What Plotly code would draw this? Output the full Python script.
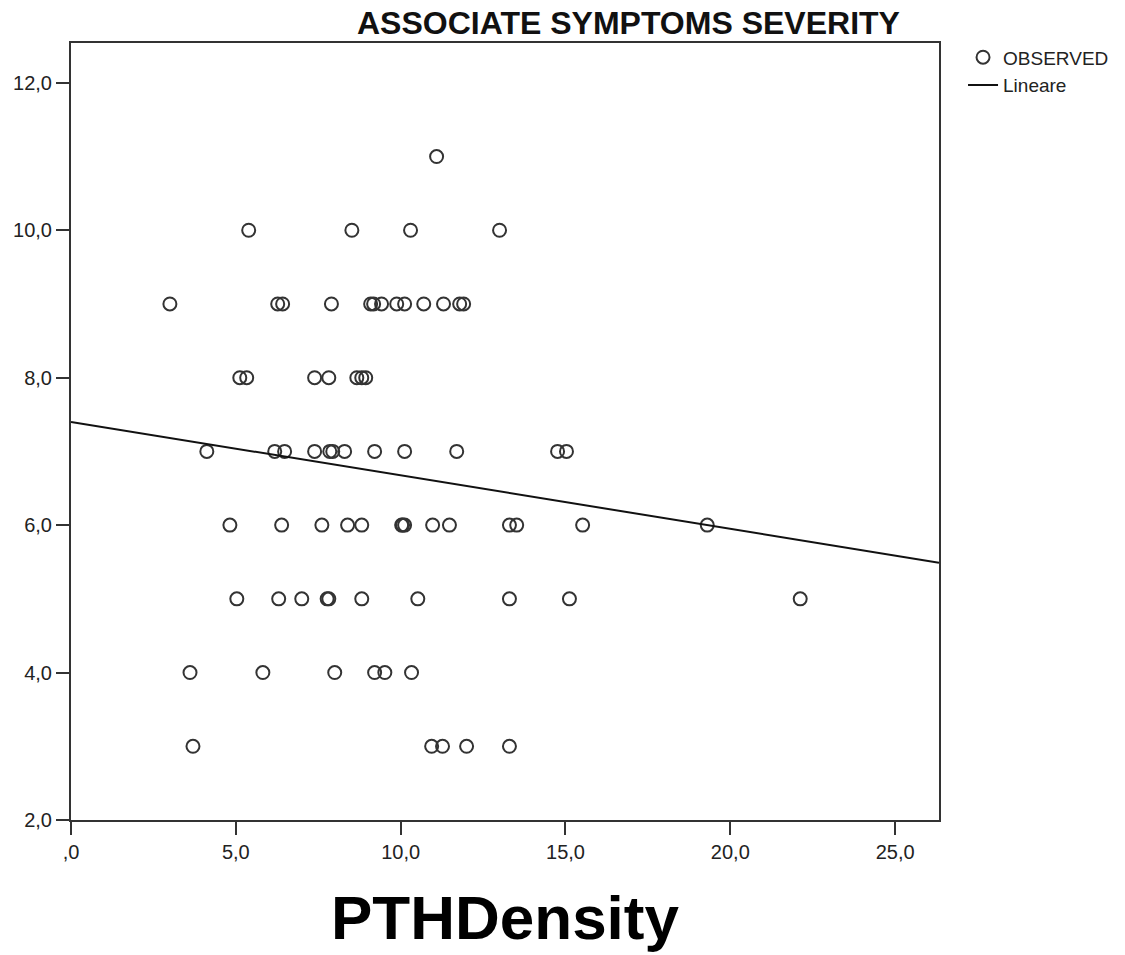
import plotly.graph_objects as go

# ---- data ----
x_values = [
    11.09,
    5.39, 8.52, 10.30, 13.00,
    3.00, 6.27, 6.42, 7.90, 9.09, 9.18, 9.42, 9.88, 10.12, 10.70, 11.30, 11.79, 11.91,
    5.12, 5.33, 7.39, 7.82, 8.67, 8.82, 8.94,
    4.12, 6.18, 6.48, 7.39, 7.85, 7.94, 8.30, 9.21, 10.12, 11.70, 14.76, 15.03,
    4.82, 6.39, 7.61, 8.39, 8.82, 10.03, 10.06, 10.12, 10.97, 11.48, 13.30, 13.52, 15.52, 19.30,
    5.03, 6.30, 7.00, 7.77, 7.82, 8.82, 10.52, 13.30, 15.12, 22.12,
    3.61, 5.82, 8.00, 9.21, 9.52, 10.33,
    3.70, 10.94, 11.27, 12.00, 13.30,
]
y_values = [
    11,
    10, 10, 10, 10,
    9, 9, 9, 9, 9, 9, 9, 9, 9, 9, 9, 9, 9,
    8, 8, 8, 8, 8, 8, 8,
    7, 7, 7, 7, 7, 7, 7, 7, 7, 7, 7, 7,
    6, 6, 6, 6, 6, 6, 6, 6, 6, 6, 6, 6, 6, 6,
    5, 5, 5, 5, 5, 5, 5, 5, 5, 5,
    4, 4, 4, 4, 4, 4,
    3, 3, 3, 3, 3,
]
fit_intercept = 7.40
fit_slope = -0.0725

x_tick_vals = [0, 5, 10, 15, 20, 25]
x_tick_text = [",0", "5,0", "10,0", "15,0", "20,0", "25,0"]
y_tick_vals = [2, 4, 6, 8, 10, 12]
y_tick_text = ["2,0", "4,0", "6,0", "8,0", "10,0", "12,0"]

x_range = [0, 26.33]
y_range = [2, 12.54]

line_x = [x_range[0], x_range[1]]
line_y = [fit_intercept + fit_slope * v for v in line_x]

FONT = "Liberation Sans, Arial, sans-serif"
INK = "#333333"

fig = go.Figure()
fig.add_trace(go.Scatter(
    x=x_values, y=y_values, mode="markers", name="OBSERVED",
    marker=dict(symbol="circle-open", size=13, color=INK, line=dict(width=2, color=INK)),
    cliponaxis=False,
))
fig.add_trace(go.Scatter(
    x=line_x, y=line_y, mode="lines", name="Lineare",
    line=dict(color="#111111", width=2),
))

axis_common = dict(
    showgrid=False, zeroline=False, showline=True, linecolor=INK, linewidth=2,
    mirror=True, ticks="outside", ticklen=13, tickwidth=2, tickcolor=INK,
    tickfont=dict(family=FONT, size=20, color="#222222"),
)
fig.update_xaxes(range=x_range, tickvals=x_tick_vals, ticktext=x_tick_text, **axis_common)
fig.update_yaxes(range=y_range, tickvals=y_tick_vals, ticktext=y_tick_text, **axis_common)

fig.update_layout(
    width=1125, height=955,
    margin=dict(l=71, r=185, t=43, b=135),
    paper_bgcolor="white", plot_bgcolor="white",
    font=dict(family=FONT, color="#222222"),
    showlegend=True,
    legend=dict(x=1.0265, y=1.006, xanchor="left", yanchor="top",
                font=dict(family=FONT, size=19, color="#222222"),
                bgcolor="rgba(0,0,0,0)", tracegroupgap=0),
    annotations=[
        dict(text="<b>ASSOCIATE SYMPTOMS SEVERITY</b>", xref="paper", yref="paper",
             x=0.642, y=1.0251, xanchor="center", yanchor="middle", showarrow=False,
             font=dict(family=FONT, size=32, color="#111111")),
        dict(text="<b>PTHDensity</b>", xref="paper", yref="paper",
             x=0.5, y=-0.1255, xanchor="center", yanchor="middle", showarrow=False,
             font=dict(family=FONT, size=62, color="#000000")),
    ],
)

fig.write_html("out.html")
